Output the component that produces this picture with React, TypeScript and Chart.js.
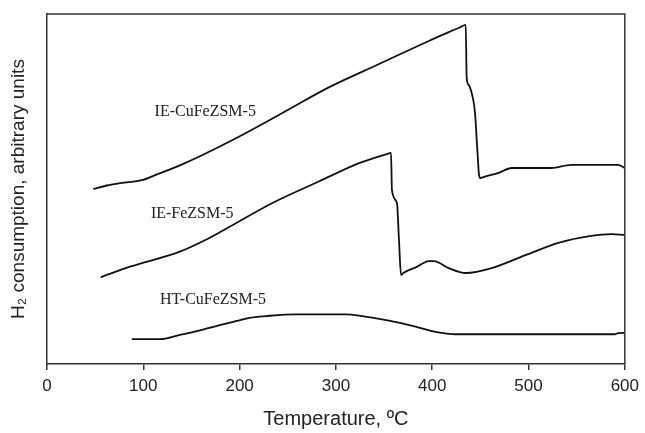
import React, { useEffect, useRef } from "react";
import { Chart, registerables } from "chart.js";

Chart.register(...registerables);

// IE-CuFeZSM-5
const cuFeTemps = [48, 62, 76, 99.6, 110, 141, 192.7, 244.4, 293.1, 344.8, 396.5, 429, 434.8, 435.8, 438, 441, 443.5, 445, 446.2, 447.5, 448.6, 450.3, 453, 468.9, 482.4, 523.8, 544.4, 593, 600];
const cuFeValues = [50.0, 51.0, 51.7, 52.6, 53.7, 57.1, 64.0, 71.7, 79.1, 85.7, 92.3, 96.2, 96.9, 81.7, 79.7, 77.4, 74.0, 69.7, 64.0, 58.3, 54.0, 53.1, 53.4, 54.6, 56.0, 56.0, 56.9, 56.9, 56.0];

// IE-FeZSM-5
const feTemps = [55.8, 86.2, 137.9, 165, 189.6, 234.1, 282.7, 324.1, 352, 357.2, 358.2, 363.4, 365.5, 367.6, 370, 383, 396.5, 401.7, 417.2, 434.8, 461.7, 496.9, 531, 565.1, 585.8, 600];
const feValues = [24.8, 27.8, 32.1, 35.5, 39.2, 46.0, 52.2, 57.4, 59.9, 60.3, 49.7, 46.0, 35.4, 25.4, 26.0, 27.6, 29.4, 29.4, 27.4, 26.0, 27.4, 31.1, 34.6, 36.6, 37.1, 36.9];

// HT-CuFeZSM-5
const htTemps = [88, 117.2, 137.9, 160, 179.3, 197, 210.3, 227.6, 258.6, 310.3, 327.2, 355.1, 382.7, 403.4, 424.1, 589.6, 593, 600];
const htValues = [7.1, 7.1, 8.3, 9.7, 11.1, 12.3, 13.2, 13.7, 14.2, 14.2, 13.7, 12.4, 10.7, 9.2, 8.5, 8.5, 8.8, 8.9];

const xTicks = [0, 100, 200, 300, 400, 500, 600];

const curveLabels = ["IE-CuFeZSM-5", "IE-FeZSM-5", "HT-CuFeZSM-5"];
const labelTemps = [164.3, 150.8, 172.4];
const labelValues = [72.0, 42.9, 18.3];

const xTitle = "Temperature, ºC";
const yTitle = "H₂ consumption, arbitrary units";

function toPoints(xs: number[], ys: number[]) {
  return xs.map((x, i) => ({ x, y: ys[i] }));
}

const framePlugin = {
  id: "frame",
  afterDraw(chart: any) {
    const { ctx, chartArea } = chart;
    const { left, right, top, bottom } = chartArea;
    ctx.save();
    ctx.strokeStyle = "#333";
    ctx.lineWidth = 1.5;
    ctx.beginPath();
    ctx.moveTo(left, top);
    ctx.lineTo(right, top);
    ctx.lineTo(right, bottom);
    ctx.stroke();

    const xs = chart.scales.x;
    const ys = chart.scales.y;
    ctx.fillStyle = "#222";
    ctx.font = '16px "Liberation Serif", "Times New Roman", serif';
    ctx.textAlign = "center";
    ctx.textBaseline = "middle";
    curveLabels.forEach((t, i) => {
      ctx.fillText(t, xs.getPixelForValue(labelTemps[i]), ys.getPixelForValue(labelValues[i]));
    });
    ctx.restore();
  },
};

export default function App() {
  const canvasRef = useRef<HTMLCanvasElement | null>(null);

  useEffect(() => {
    if (!canvasRef.current) return;
    const lineStyle = {
      borderColor: "#111",
      borderWidth: 1.8,
      pointRadius: 0,
      fill: false,
      cubicInterpolationMode: "monotone" as const,
      borderJoinStyle: "round" as const,
    };
    const chart = new Chart(canvasRef.current, {
      type: "line",
      data: {
        datasets: [
          { label: curveLabels[0], data: toPoints(cuFeTemps, cuFeValues), ...lineStyle },
          { label: curveLabels[1], data: toPoints(feTemps, feValues), ...lineStyle },
          { label: curveLabels[2], data: toPoints(htTemps, htValues), ...lineStyle },
        ],
      },
      options: {
        animation: false,
        responsive: true,
        maintainAspectRatio: false,
        layout: { padding: { top: 14, right: 18, left: 0, bottom: 0 } },
        plugins: { legend: { display: false }, tooltip: { enabled: false } },
        scales: {
          x: {
            type: "linear",
            min: 0,
            max: 600,
            afterBuildTicks: (s: any) => {
              s.ticks = xTicks.map((v) => ({ value: v }));
            },
            afterFit: (s: any) => {
              s.height = 69;
            },
            ticks: {
              color: "#222",
              font: { family: '"Liberation Sans", Arial, sans-serif', size: 17 },
              padding: 6,
              maxRotation: 0,
            },
            grid: { drawOnChartArea: false, drawTicks: true, tickLength: 6, color: "#333", lineWidth: 1.5 },
            border: { display: true, color: "#333", width: 1.5 },
            title: {
              display: true,
              text: xTitle,
              color: "#222",
              font: { family: '"Liberation Sans", Arial, sans-serif', size: 20 },
              padding: { top: 4, bottom: 2 },
            },
          },
          y: {
            type: "linear",
            min: 0,
            max: 100,
            afterFit: (s: any) => {
              s.width = 47;
            },
            ticks: { display: false },
            grid: { display: false },
            border: { display: true, color: "#333", width: 1.5 },
            title: {
              display: true,
              text: yTitle,
              color: "#222",
              font: { family: '"Liberation Sans", Arial, sans-serif', size: 19 },
              padding: { top: 7, bottom: 0 },
            },
          },
        },
      },
      plugins: [framePlugin],
    });
    return () => chart.destroy();
  }, []);

  return (
    <div style={{ position: "absolute", left: 0, top: 0, width: 645, height: 433, background: "#fff" }}>
      <canvas ref={canvasRef} />
    </div>
  );
}
